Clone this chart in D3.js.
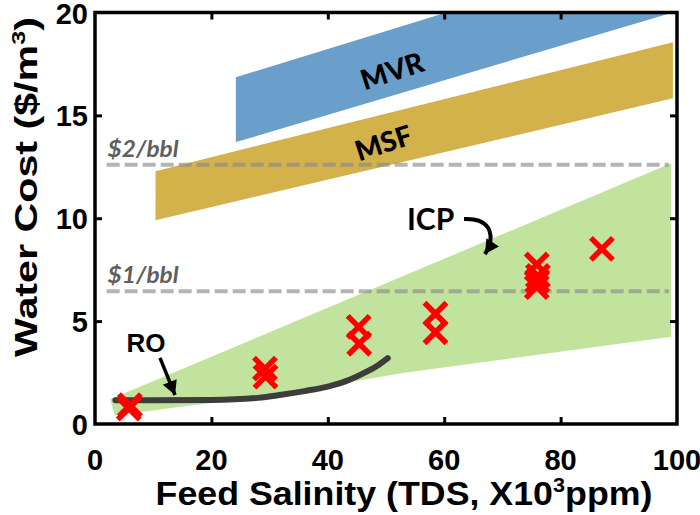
<!DOCTYPE html>
<html>
<head>
<meta charset="utf-8">
<script src="https://cdn.jsdelivr.net/npm/d3@7"></script>
<style>
  html, body { margin: 0; padding: 0; background: #fff; }
  svg { display: block; }
</style>
</head>
<body>
<svg id="chart" width="700" height="515"></svg>
<script>
// ---------------- data ----------------
const xTicks = [0, 20, 40, 60, 80, 100];
const yTicks = [0, 5, 10, 15, 20];
const xTickLabels = ["0", "20", "40", "60", "80", "100"];
const yTickLabels = ["0", "5", "10", "15", "20"];

// technology cost bands (x = feed TDS, y = cost)
const mvrBand = [[24.2, 13.7], [98.3, 19.92], [98.3, 23.3], [24.2, 16.85]];
const msfBand = [[10.4, 9.9], [99.3, 15.83], [99.3, 18.56], [10.4, 12.29]];
const icpBand = [[2.6, 1.2], [99.0, 12.67], [99.0, 4.24], [52.3, 2.45], [31.7, 1.45], [3.4, 0.42]];

// RO cost curve
const roX = [3.5, 10, 20, 28, 32, 36, 40, 43, 46, 48.5, 50.3];
const roY = [1.16, 1.16, 1.17, 1.27, 1.42, 1.6, 1.82, 2.07, 2.45, 2.83, 3.2];

// ICP case points (red crosses)
const icpX = [5.8, 6.0, 29.2, 29.3, 45.3, 45.4, 58.5, 58.5, 75.9, 76.1, 76.0, 75.9, 87.1];
const icpY = [0.75, 0.92, 2.69, 2.30, 4.72, 3.90, 5.36, 4.46, 7.75, 7.2, 6.95, 6.65, 8.51];

// reference cost lines
const costLabels = ["$2/bbl", "$1/bbl"];
const costValues = [12.6, 6.45];
const costStart = 2.0, costEnd = 98.6;

// band names
const bandNames = ["MVR", "MSF"];
const bandLabelX = [51.0, 49.5];
const bandLabelY = [17.2, 13.7];

// annotations (data coordinates)
const roLabel = { text: "RO", x: 5.4, y: 3.5 };
const roArrow = [[11.17, 3.21], [13.75, 1.41]];
const icpLabel = { text: "ICP", x: 53.6, y: 9.45 };
const icpArrow = [[63.4, 9.96], [68.7, 10.01], [68.6, 8.94], [67.0, 8.26]];

// ---------------- chart ----------------
const svg = d3.select("#chart");
const L = 95, R = 677, T = 12.5, B = 424;
const x = d3.scaleLinear().domain([0, 100]).range([L, R]);
const y = d3.scaleLinear().domain([0, 20]).range([B, T]);

const blue = "#6a9ecb", gold = "#d3b14b", green = "#c1e39d";
const arial = "'Liberation Sans', Arial, sans-serif";
const calibri = "Lato, 'Open Sans', sans-serif";

const defs = svg.append("defs");
defs.append("clipPath").attr("id", "plotclip")
  .append("rect").attr("x", L).attr("y", T).attr("width", R - L).attr("height", B - T);
defs.append("marker").attr("id", "ahead")
  .attr("viewBox", "-16 -9 18 18")
  .attr("markerUnits", "userSpaceOnUse")
  .attr("markerWidth", 18).attr("markerHeight", 18)
  .attr("refX", 0).attr("refY", 0).attr("orient", "auto")
  .append("path").attr("d", "M0,0 L-14,-7.5 L-14,7.5 Z").attr("fill", "#000");

const plot = svg.append("g").attr("clip-path", "url(#plotclip)");
const poly = d3.line().x(d => x(d[0])).y(d => y(d[1]));

plot.append("path").attr("d", poly(icpBand) + "Z").attr("fill", green);
plot.append("path").attr("d", poly(mvrBand) + "Z").attr("fill", blue);
plot.append("path").attr("d", poly(msfBand) + "Z").attr("fill", gold);

// dashed reference lines
costValues.forEach((v, i) => {
  plot.append("line")
    .attr("x1", x(costStart)).attr("x2", x(costEnd))
    .attr("y1", y(v)).attr("y2", y(v))
    .attr("stroke", "#8c8c8c").attr("stroke-opacity", 0.65)
    .attr("stroke-width", 4).attr("stroke-dasharray", "13,5");
  svg.append("text")
    .attr("x", x(costStart) + 1).attr("y", y(v) - 8)
    .attr("font-family", calibri).attr("font-weight", "bold").attr("font-style", "italic")
    .attr("font-size", 22).attr("fill", "#5f5f5f")
    .attr("textLength", 71).attr("lengthAdjust", "spacingAndGlyphs")
    .text(costLabels[i]);
});

// RO curve
const roLine = d3.line().x(d => x(d[0])).y(d => y(d[1])).curve(d3.curveMonotoneX);
plot.append("path").attr("d", roLine(roX.map((v, i) => [v, roY[i]])))
  .attr("fill", "none").attr("stroke", "#3d3d3d").attr("stroke-width", 6)
  .attr("stroke-linecap", "round");

// red crosses
const h = 11;
plot.selectAll("path.cross").data(icpX.map((v, i) => [v, icpY[i]])).join("path")
  .attr("class", "cross")
  .attr("transform", d => `translate(${x(d[0])},${y(d[1])})`)
  .attr("d", `M${-h},${-h}L${h},${h}M${-h},${h}L${h},${-h}`)
  .attr("stroke", "#ff0000").attr("stroke-width", 5.5).attr("fill", "none");

// band labels (rotated)
bandNames.forEach((n, i) => {
  svg.append("text")
    .attr("transform", `translate(${x(bandLabelX[i])},${y(bandLabelY[i])}) rotate(-18)`)
    .attr("text-anchor", "middle").attr("dominant-baseline", "central")
    .attr("font-family", calibri).attr("font-weight", 900).attr("font-size", 28)
    .attr("fill", "#000").text(n);
});

// RO annotation
svg.append("text").attr("x", x(roLabel.x)).attr("y", y(roLabel.y))
  .attr("font-family", arial).attr("font-weight", "bold").attr("font-size", 26)
  .text(roLabel.text);
svg.append("line")
  .attr("x1", x(roArrow[0][0])).attr("y1", y(roArrow[0][1]))
  .attr("x2", x(roArrow[1][0])).attr("y2", y(roArrow[1][1]))
  .attr("stroke", "#000").attr("stroke-width", 3.5).attr("marker-end", "url(#ahead)");

// ICP annotation
svg.append("text").attr("x", x(icpLabel.x)).attr("y", y(icpLabel.y))
  .attr("font-family", calibri).attr("font-weight", "bold").attr("font-size", 30)
  .text(icpLabel.text);
const p = icpArrow.map(d => [x(d[0]), y(d[1])]);
svg.append("path")
  .attr("d", `M${p[0]}C${p[1]} ${p[2]} ${p[3]}`)
  .attr("fill", "none").attr("stroke", "#000").attr("stroke-width", 4)
  .attr("marker-end", "url(#ahead)");

// ---------------- axes frame ----------------
const ax = svg.append("g");
const bottomAxis = d3.axisBottom(x).tickValues(xTicks.slice(1, -1)).tickSize(-7).tickFormat("");
const topAxis = d3.axisTop(x).tickValues(xTicks.slice(1, -1)).tickSize(-7).tickFormat("");
const leftAxis = d3.axisLeft(y).tickValues(yTicks.slice(1, -1)).tickSize(-7).tickFormat("");
const rightAxis = d3.axisRight(y).tickValues(yTicks.slice(1, -1)).tickSize(-7).tickFormat("");
[[bottomAxis, `translate(0,${B})`], [topAxis, `translate(0,${T})`],
 [leftAxis, `translate(${L},0)`], [rightAxis, `translate(${R},0)`]].forEach(([a, t]) => {
  const g = ax.append("g").attr("transform", t).call(a);
  g.select(".domain").remove();
  g.selectAll(".tick line").attr("stroke", "#000").attr("stroke-width", 3);
});
ax.append("rect").attr("x", L).attr("y", T).attr("width", R - L).attr("height", B - T)
  .attr("fill", "none").attr("stroke", "#000").attr("stroke-width", 3.5);

// tick labels
svg.selectAll("text.xt").data(xTicks).join("text").attr("class", "xt")
  .attr("x", d => x(d)).attr("y", 470).attr("text-anchor", "middle")
  .attr("font-family", arial).attr("font-weight", "bold").attr("font-size", 29)
  .text((d, i) => xTickLabels[i]);
svg.selectAll("text.yt").data(yTicks).join("text").attr("class", "yt")
  .attr("x", 88).attr("y", d => Math.max(y(d) + 10.5, 24)).attr("text-anchor", "end")
  .attr("font-family", arial).attr("font-weight", "bold").attr("font-size", 29)
  .text((d, i) => yTickLabels[i]);

// axis titles
function fit(sel, target) {
  const w = sel.node().getBBox().width;
  return target / w;
}
const xt = svg.append("text").attr("text-anchor", "middle")
  .attr("font-family", arial).attr("font-weight", "bold").attr("font-size", 33);
xt.append("tspan").text("Feed Salinity (TDS, X10");
xt.append("tspan").attr("dy", -13).attr("font-size", 20).text("3");
xt.append("tspan").attr("dy", 13).text("ppm)");
const sx = fit(xt, 497);
xt.attr("transform", `translate(404,505) scale(${sx},1)`);

const yt = svg.append("text").attr("text-anchor", "middle")
  .attr("font-family", arial).attr("font-weight", "bold").attr("font-size", 31);
yt.append("tspan").text("Water Cost ($/m");
yt.append("tspan").attr("dy", -12).attr("font-size", 19).text("3");
yt.append("tspan").attr("dy", 12).text(")");
const sy = fit(yt, 340);
yt.attr("transform", `translate(37,187) rotate(-90) scale(${sy},1)`);
</script>
</body>
</html>
